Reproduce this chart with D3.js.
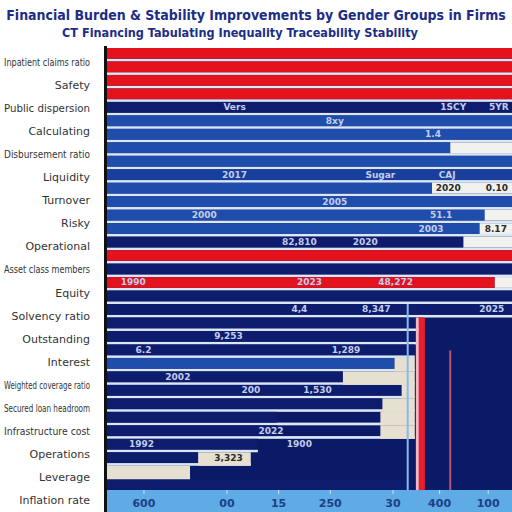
<!DOCTYPE html>
<html>
<head>
<meta charset="utf-8">
<script src="https://cdn.jsdelivr.net/npm/d3@7"></script>
<style>
  body { margin: 0; background: #fff; }
  svg { display: block; }
</style>
</head>
<body>
<svg id="chart" width="512" height="512"></svg>
<script>
var svg = d3.select('#chart')

var titleLine1 = "Financial Burden & Stability Improvements by Gender Groups in Firms"
var titleLine2 = "CT Financing Tabulating Inequality Traceability Stability"

var categories = ["Inpatient claims ratio", "Safety", "Public dispersion", "Calculating",
  "Disbursement ratio", "Liquidity", "Turnover", "Risky", "Operational",
  "Asset class members", "Equity", "Solvency ratio", "Outstanding", "Interest",
  "Weighted coverage ratio", "Secured loan headroom", "Infrastructure cost",
  "Operations", "Leverage", "Inflation rate"]

// one entry per bar row, top to bottom
var rowKind = ["red", "red", "red", "red", "navy", "blue", "blue", "blue", "blue", "deep",
  "blue", "blue", "blue", "blue", "navy", "red", "navy", "red", "navy", "navy",
  "navy", "navy", "navy", "blue", "navy", "navy", "navy", "navy", "navy", "navy",
  "navy", "navy", "navy"]
var rowValue = [400, 400, 400, 400, 400, 400, 400, 339, 400, 400,
  321, 400, 373, 368, 352, 400, 400, 383, 400, 400,
  309, 306, 304, 284, 233, 291, 272, 168, 168, 149,
  90, 0, 302]
var paleFrom = [0, 0, 0, 0, 0, 0, 0, 339, 0, 0,
  321, 0, 373, 368, 352, 0, 0, 383, 0, 0,
  0, 0, 0, 284, 233, 291, 272, 270, 270, 0,
  90, 0, 0]
var paleTo = [0, 0, 0, 0, 0, 0, 0, 400, 0, 0,
  400, 0, 400, 400, 400, 0, 0, 400, 0, 0,
  0, 0, 0, 304, 304, 304, 304, 304, 304, 0,
  142, 82, 0]

var tickValues = [36, 118, 169, 220, 282, 328, 376]
var tickLabels = ["600", "00", "15", "250", "30", "400", "100"]

var redLine = 309, guideLine = 296, pinkLine = 338

// small value tags: row, value, text
var tagRows = [4, 4, 4, 5, 6, 9, 9, 9, 10, 10, 11, 12, 12, 13, 13, 14, 14, 17, 17, 17, 19, 19, 19, 21, 22, 22, 24, 25, 25, 28, 29, 29, 30]
var tagValues = [126, 342, 387, 225, 322, 126, 270, 336, 337, 385, 225, 96, 330, 320, 384, 190, 255, 26, 200, 285, 190, 266, 380, 120, 36, 236, 70, 142, 208, 162, 34, 190, 120]
var tagTexts = ["Vers", "1SCY", "5YR", "8xy", "1.4", "2017", "Sugar", "CAJ", "2020", "0.10", "2005", "2000", "51.1", "2003", "8.17", "82,810", "2020", "1990", "2023", "48,272", "4,4", "8,347", "2025", "9,253", "6.2", "1,289", "2002", "200", "1,530", "2022", "1992", "1900", "3,323"]

var font = 'Liberation Sans Narrow, DejaVu Sans, sans-serif'

var colors = d3.scaleOrdinal()
  .domain(["red", "navy", "blue", "deep"])
  .range(["#e3121d", "#0d1c6c", "#1f4dab", "#173f9b"])

var x = d3.scaleLinear().domain([0, 400]).range([107, 512])
var rows = d3.scaleBand().domain(d3.range(rowValue.length)).range([48, 490]).paddingInner(0.2)
var labelY = d3.scalePoint().domain(categories).range([62, 500])

// shrink a text's font until it fits the given width
function fitWidth(sel, maxW, size) {
  sel.style('font-size', size + 'px')
  var w = sel.node().getComputedTextLength()
  if (w > maxW) sel.style('font-size', (size * maxW / w).toFixed(2) + 'px')
}

// titles
var t1 = svg.append('text')
  .attr('x', 256).attr('y', 20)
  .attr('text-anchor', 'middle')
  .style('font-family', font).style('font-stretch', 'condensed')
  .style('font-weight', 'bold')
  .style('fill', '#1b2d86')
  .text(titleLine1)
fitWidth(t1, 500, 17)
var t2 = svg.append('text')
  .attr('x', 240).attr('y', 37)
  .attr('text-anchor', 'middle')
  .style('font-family', font).style('font-stretch', 'condensed')
  .style('font-weight', 'bold')
  .style('fill', '#1b2d86')
  .text(titleLine2)
fitWidth(t2, 356, 15)

// plot background
svg.append('rect')
  .attr('x', x(0)).attr('y', 48)
  .attr('width', x(400) - x(0)).attr('height', 442)
  .attr('fill', '#0b1a66')

var step = rows.step(), bw = rows.bandwidth()

// light separators between rows
svg.append('g').selectAll('rect')
  .data(rowValue)
  .enter()
  .append('rect')
  .attr('x', x(0))
  .attr('y', function (d, i) { return rows(i) + bw })
  .attr('width', function (d, i) { return x(Math.max(d, paleTo[i])) - x(0) })
  .attr('height', step - bw)
  .attr('fill', '#dce7f6')

// bars
svg.append('g').selectAll('rect')
  .data(rowValue)
  .enter()
  .append('rect')
  .attr('x', x(0))
  .attr('y', function (d, i) { return rows(i) })
  .attr('width', function (d) { return x(d) - x(0) })
  .attr('height', bw)
  .attr('fill', function (d, i) { return colors(rowKind[i]) })

// pale remainders
svg.append('g').selectAll('rect')
  .data(paleTo)
  .enter()
  .append('rect')
  .attr('x', function (d, i) { return x(paleFrom[i]) })
  .attr('y', function (d, i) { return rows(i) })
  .attr('width', function (d, i) { return Math.max(0, x(d) - x(paleFrom[i])) })
  .attr('height', function (d, i) { return i > 19 ? step : bw })
  .attr('fill', function (d, i) { return i < 19 ? '#f1f1ee' : '#e6e0d0' })

// reference lines on the lower part
svg.append('rect')
  .attr('x', x(guideLine)).attr('y', rows(19))
  .attr('width', 2).attr('height', 490 - rows(19))
  .attr('fill', '#8ab8ec')
svg.append('rect')
  .attr('x', x(redLine) - 4).attr('y', rows(20))
  .attr('width', 3).attr('height', 490 - rows(20))
  .attr('fill', '#f6b6c0')
svg.append('rect')
  .attr('x', x(redLine) - 1).attr('y', rows(20))
  .attr('width', 6).attr('height', 490 - rows(20))
  .attr('fill', '#ee1c2a')
svg.append('rect')
  .attr('x', x(pinkLine)).attr('y', rows(22) + 6)
  .attr('width', 2).attr('height', 490 - rows(22) - 6)
  .attr('fill', '#b9537a')

// tags
svg.append('g').selectAll('text')
  .data(tagTexts)
  .enter()
  .append('text')
  .attr('x', function (d, i) { return x(tagValues[i]) })
  .attr('y', function (d, i) { return rows(tagRows[i]) + bw / 2 + 3 })
  .attr('text-anchor', 'middle')
  .style('font-family', font)
  .style('font-size', '9px').style('font-weight', 'bold')
  .style('fill', function (d, i) {
    var r = tagRows[i], v = tagValues[i]
    return (v >= paleFrom[r] && v <= paleTo[r] && paleTo[r] > 0) ? '#2a2a2a' : '#c3cdee'
  })
  .text(function (d) { return d })

// bottom axis band
svg.append('rect')
  .attr('x', x(0)).attr('y', 490)
  .attr('width', x(400) - x(0)).attr('height', 22)
  .attr('fill', '#5eabe6')
var xAxis = svg.append('g')
  .attr('transform', 'translate(0,490)')
  .call(d3.axisBottom(x).tickValues(tickValues).tickSize(4)
    .tickFormat(function (d, i) { return tickLabels[i] }))
xAxis.select('.domain').remove()
xAxis.selectAll('line').attr('stroke', '#cfe4f8')
xAxis.selectAll('text')
  .attr('dy', '0.9em')
  .style('font-family', font)
  .style('font-size', '11px').style('font-weight', 'bold')
  .style('fill', '#1c3f86')

// left axis line
svg.append('rect')
  .attr('x', x(0) - 3).attr('y', 46)
  .attr('width', 3).attr('height', 466)
  .attr('fill', '#111')

// category labels, squeezed to stay inside the left margin
svg.append('g').selectAll('text')
  .data(categories)
  .enter()
  .append('text')
  .attr('x', 90)
  .attr('y', function (d) { return labelY(d) + 4 })
  .attr('text-anchor', 'end')
  .style('font-family', font)
  .style('font-size', '11px')
  .style('fill', '#333')
  .text(function (d) { return d })
  .each(function () {
    if (this.getComputedTextLength() > 86) {
      d3.select(this).attr('textLength', 86).attr('lengthAdjust', 'spacingAndGlyphs')
    }
  })
</script>
</body>
</html>
